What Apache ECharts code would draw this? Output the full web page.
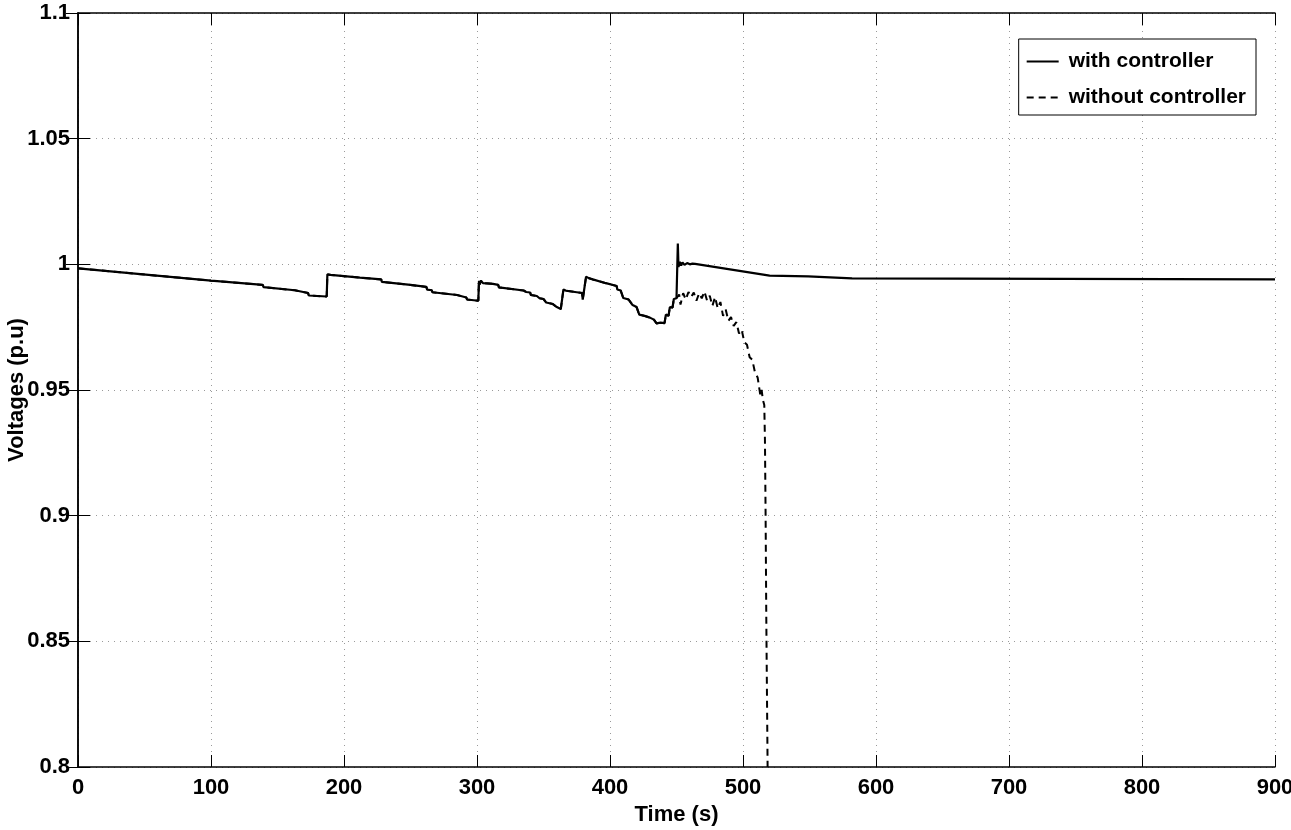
<!DOCTYPE html>
<html>
<head>
<meta charset="utf-8">
<script src="https://cdn.jsdelivr.net/npm/echarts@6/dist/echarts.min.js"></script>
<style>
  html, body { margin: 0; padding: 0; background: #fff; }
  #chart { width: 1291px; height: 830px; }
</style>
</head>
<body>
<div id="chart"></div>
<script>
// time (s) and voltage (p.u)
// common part, identical for both cases up to t = 450 s
var commonT = [0, 100, 139, 139.5, 163, 163.5, 173, 173.5, 187, 187.5, 190, 212, 228, 228.5, 250, 262, 262.5, 266, 266.5,
  285, 285.5, 292, 292.5, 301, 301.5, 302, 303, 304.5, 306, 308, 312, 316, 316.5, 335, 337, 340, 340.5, 345, 347,
  350, 352, 357, 358, 360, 363, 364.5, 365, 367, 379, 379.5, 381, 382, 384, 387, 397, 405, 405.5, 408, 410,
  414, 417, 420, 422, 426, 430, 433, 435, 438, 441, 442, 444, 445, 447, 448, 450];
var commonV = [0.9984, 0.9935, 0.9918, 0.9909, 0.9897, 0.9891, 0.9886, 0.9876, 0.9872, 0.9960, 0.9958, 0.9947, 0.9940, 0.9930, 0.9918, 0.9910, 0.9899, 0.9897, 0.9889,
  0.9878, 0.9871, 0.9868, 0.9860, 0.9855, 0.9935, 0.9920, 0.9935, 0.9925, 0.9930, 0.9924, 0.9922, 0.9918, 0.9908, 0.9896, 0.9890, 0.9888, 0.9878, 0.9874, 0.9865,
  0.9862, 0.9848, 0.9842, 0.9835, 0.9830, 0.9822, 0.9818, 0.9900, 0.9895, 0.9886, 0.9860, 0.9858, 0.9951, 0.9945, 0.9940, 0.9925, 0.9914, 0.9900, 0.9896, 0.9866,
  0.9860, 0.9838, 0.9830, 0.9800, 0.9795, 0.9788, 0.9780, 0.9765, 0.9768, 0.9766, 0.9800, 0.9795, 0.9830, 0.9828, 0.9862, 0.9865];

// with controller, after 450 s
var withT = [451, 451.5, 452.5, 453.5, 454.5, 456, 458, 460, 462, 463, 464, 520, 549, 549.5, 582, 582.5, 900];
var withV = [1.0083, 0.9990, 1.0010, 0.9995, 1.0008, 0.9998, 1.0005, 1.0000, 1.0003, 1.0010, 1.0002, 0.9955, 0.9952, 0.9946, 0.9944, 0.9940, 0.9940];

// without controller, after 450 s (collapse)
var withoutT = [452, 453, 455, 457, 459, 461, 463, 465, 467, 469, 471, 473, 475, 477, 479, 481, 483, 485, 487, 489,
  491, 493, 495, 497, 499, 501, 503, 505, 507, 509, 511, 513, 514, 515, 516, 516.5, 517, 517.5, 518, 518.5];
var withoutV = [0.9880, 0.9840, 0.9885, 0.9860, 0.9890, 0.9870, 0.9888, 0.9855, 0.9885, 0.9865, 0.9892, 0.9855, 0.9875, 0.9835, 0.9870, 0.9825, 0.9850, 0.9795, 0.9820, 0.9775,
  0.9790, 0.9755, 0.9770, 0.9725, 0.9740, 0.9690, 0.9680, 0.9630, 0.9620, 0.9570, 0.9550, 0.9480, 0.9500, 0.9460, 0.9440, 0.9300, 0.9000, 0.8600, 0.8300, 0.8000];

var xTicks = [0, 100, 200, 300, 400, 500, 600, 700, 800, 900];
var yTicks = [0.8, 0.85, 0.9, 0.95, 1, 1.05, 1.1];

function pairs(t, v) {
  var out = [];
  for (var i = 0; i < t.length; i++) out.push([t[i], v[i]]);
  return out;
}

var withData = pairs(commonT, commonV).concat(pairs(withT, withV));
var withoutData = pairs(commonT, commonV).concat(pairs(withoutT, withoutV));

var font = '"Liberation Sans", Arial, sans-serif';
var gridLine = { show: true, lineStyle: { color: '#9a9a9a', type: [1, 5], width: 1 } };

var myChart = echarts.init(document.getElementById('chart'));
var option = {
  animation: false,
  backgroundColor: '#fff',
  grid: { left: 78, right: 16, top: 13, bottom: 63, containLabel: false, outerBoundsMode: 'none' },
  legend: {
    orient: 'vertical',
    right: 35,
    top: 39,
    padding: [12, 10, 7, 7],
    itemGap: 15,
    itemWidth: 32,
    itemHeight: 14,
    borderColor: '#000',
    borderWidth: 1,
    backgroundColor: '#fff',
    itemStyle: { opacity: 0 },
    textStyle: { fontFamily: font, fontWeight: 'bold', fontSize: 21, color: '#000', padding: [0, 0, 0, 5] },
    data: ['with controller', 'without controller']
  },
  xAxis: [
    {
      type: 'value', min: 0, max: 900, interval: 100,
      name: 'Time (s)', nameLocation: 'middle', nameGap: 34,
      nameTextStyle: { fontFamily: font, fontWeight: 'bold', fontSize: 22, color: '#000' },
      axisLine: { show: true, lineStyle: { color: '#000', width: 1.5 } },
      axisTick: { show: true, inside: true, length: 12, lineStyle: { color: '#000' } },
      axisLabel: { fontFamily: font, fontWeight: 'bold', fontSize: 22, color: '#000', margin: 10,
        formatter: function (v) { return xTicks.indexOf(v) >= 0 ? String(v) : ''; } },
      splitLine: gridLine
    },
    {
      type: 'value', min: 0, max: 900, interval: 100, position: 'top',
      axisLine: { show: true, lineStyle: { color: '#000', width: 1.5 } },
      axisTick: { show: true, inside: true, length: 12, lineStyle: { color: '#000' } },
      axisLabel: { show: false }, splitLine: { show: false }
    }
  ],
  yAxis: [
    {
      type: 'value', min: 0.8, max: 1.1, interval: 0.05,
      name: 'Voltages (p.u)', nameLocation: 'middle', nameGap: 50, nameMoveOverlap: false,
      nameTextStyle: { fontFamily: font, fontWeight: 'bold', fontSize: 22, color: '#000' },
      axisLine: { show: true, lineStyle: { color: '#000', width: 1.5 } },
      axisTick: { show: true, inside: true, length: 12, lineStyle: { color: '#000' } },
      axisLabel: { fontFamily: font, fontWeight: 'bold', fontSize: 22, color: '#000', margin: 8,
        formatter: function (v) {
          for (var i = 0; i < yTicks.length; i++) {
            if (Math.abs(yTicks[i] - v) < 1e-9) return String(yTicks[i]);
          }
          return '';
        } },
      splitLine: gridLine
    },
    {
      type: 'value', min: 0.8, max: 1.1, interval: 0.05, position: 'right',
      axisLine: { show: true, lineStyle: { color: '#000', width: 1.5 } },
      axisTick: { show: true, inside: true, length: 12, lineStyle: { color: '#000' } },
      axisLabel: { show: false }, splitLine: { show: false }
    }
  ],
  series: [
    {
      name: 'without controller',
      type: 'line',
      data: withoutData,
      showSymbol: false,
      symbol: 'none',
      clip: true,
      lineStyle: { color: '#000', width: 2, type: [7, 5] },
      itemStyle: { color: '#000' },
      z: 2
    },
    {
      name: 'with controller',
      type: 'line',
      data: withData,
      showSymbol: false,
      symbol: 'none',
      clip: true,
      lineStyle: { color: '#000', width: 2.2 },
      itemStyle: { color: '#000' },
      z: 3
    }
  ]
};
myChart.setOption(option);
</script>
</body>
</html>
